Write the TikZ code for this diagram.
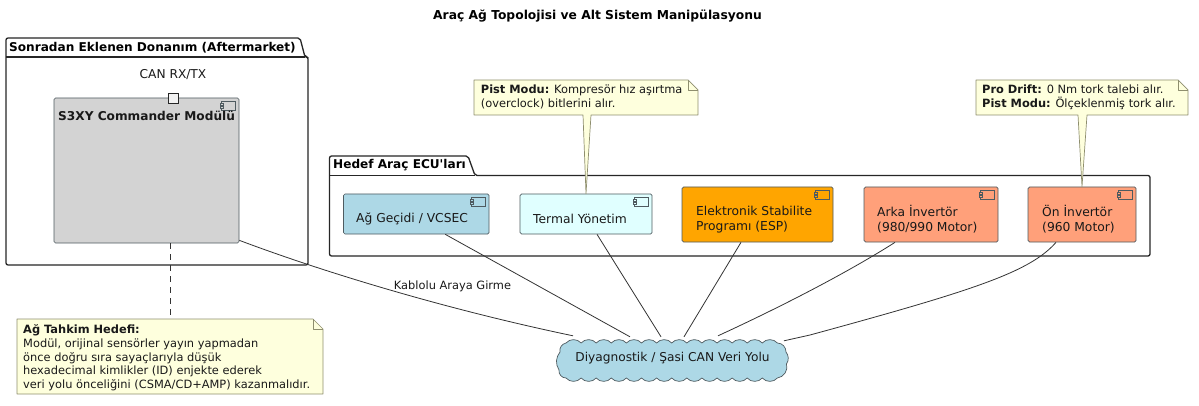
\documentclass[tikz,border=0pt]{standalone}
\usepackage{fontspec}
\setmainfont{DejaVu Sans}
\newfontfamily\aposfont{DejaVu Sans}
\definecolor{notefill}{HTML}{FEFFDD}
\definecolor{noteline}{HTML}{8E8E6E}
\definecolor{compline}{HTML}{4F5B60}
\definecolor{lsalmon}{HTML}{FFA07A}
\definecolor{lblue}{HTML}{ADD8E6}
\definecolor{lcyan}{HTML}{E0FFFF}
\definecolor{lorange}{HTML}{FFA500}
\definecolor{lgray}{HTML}{D3D3D3}
\tikzset{
	comp/.style={draw=compline,line width=0.7pt,rounded corners=1.5pt,inner sep=0pt},
	comptext/.style={font=\fontsize{12.3}{15}\selectfont,align=left,anchor=west,inner sep=0pt,text=black!90},
	notetext/.style={font=\fontsize{11.4}{13.7}\selectfont,align=left,anchor=north west,inner sep=0pt,text=black!90},
	notebox/.style={draw=noteline,fill=notefill,line width=0.7pt,line join=round},
	pkg/.style={draw=black!85,line width=1.3pt,fill=white,rounded corners=2pt},
	pkgtext/.style={font=\fontsize{12.1}{15}\selectfont\bfseries,anchor=west,inner sep=0pt},
	conn/.style={draw=black!80,line width=0.8pt},
}
\newcommand{\compicon}[2]{
	\draw[draw=compline,fill=#2,line width=0.5pt] ([xshift=-18pt,yshift=-4pt]#1.north east) rectangle ([xshift=-4pt,yshift=-13pt]#1.north east);
	\draw[draw=compline,fill=#2,line width=0.5pt] ([xshift=-19.5pt,yshift=-6pt]#1.north east) rectangle ([xshift=-16.5pt,yshift=-8pt]#1.north east);
	\draw[draw=compline,fill=#2,line width=0.5pt] ([xshift=-19.5pt,yshift=-9pt]#1.north east) rectangle ([xshift=-16.5pt,yshift=-11pt]#1.north east);
}
\begin{document}
\begin{tikzpicture}[x=1pt,y=-1pt]
	\useasboundingbox (0,0) rectangle (1199,406);
	\node[font=\fontsize{12.3}{14}\selectfont\bfseries] (title) at (597.5,16) {Araç Ağ Topolojisi ve Alt Sistem Manipülasyonu};

	% packages
	\draw[pkg] (6,57) -- (6,38) -- (300,38) -- (305,57) -- (308,57) -- (308,265) -- (6,265) -- cycle;
	\draw[draw=black!85,line width=1.3pt] (6,57) -- (305,57);
	\node[pkgtext] (hwlabel) at (9,47.5) {Sonradan Eklenen Donanım (Aftermarket)};
	\draw[pkg] (329.5,175.5) -- (329.5,156) -- (468,156) -- (475,175.5) -- (1150,175.5) -- (1150,256) -- (329.5,256) -- cycle;
	\draw[draw=black!85,line width=1.3pt] (329.5,175.5) -- (475,175.5);
	\node[pkgtext] (eculabel) at (333,165.5) {Hedef Araç ECU{\aposfont '}ları};

	% components
	\node[comp,fill=lgray,minimum width=185pt,minimum height=145pt] (cmdr) at (146.5,170.5) {};
	\node[comp,fill=lblue,minimum width=145.5pt,minimum height=40pt] (vcsec) at (416.25,214) {};
	\node[comp,fill=lcyan,minimum width=132pt,minimum height=40pt] (thermal) at (586,214) {};
	\node[comp,fill=lorange,minimum width=151pt,minimum height=55pt] (esp) at (757.5,214.5) {};
	\node[comp,fill=lsalmon,minimum width=134pt,minimum height=55pt] (rearinv) at (931,214.5) {};
	\node[comp,fill=lsalmon,minimum width=108pt,minimum height=55pt] (frontinv) at (1082,214.5) {};
	\compicon{cmdr}{lgray}
	\compicon{vcsec}{lblue}
	\compicon{thermal}{lcyan}
	\compicon{esp}{lorange}
	\compicon{rearinv}{lsalmon}
	\compicon{frontinv}{lsalmon}
	\node[comptext,font=\fontsize{12.15}{15}\selectfont\bfseries] (cmdrtext) at (58,116) {S3XY Commander Modülü};
	\node[comptext] (vcsectext) at (356,219) {Ağ Geçidi / VCSEC};
	\node[comptext] (thermaltext) at (533,219) {Termal Yönetim};
	\node[comptext] (esptext) at (696,219.5) {Elektronik Stabilite\\Programı (ESP)};
	\node[comptext] (rearinvtext) at (877,219.5) {Arka İnvertör\\(980/990 Motor)};
	\node[comptext] (frontinvtext) at (1042,219.5) {Ön İnvertör\\(960 Motor)};

	% port
	\node[draw=black!85,fill=black!5,line width=1pt,minimum size=10.5pt,inner sep=0pt] (canport) at (173.5,98.5) {};
	\node[font=\fontsize{12.2}{14}\selectfont,inner sep=0pt,text=black!90] (canlabel) at (173,75) {CAN RX/TX};

	% bus
	\draw[draw=compline,fill=lblue,line width=0.7pt] (566,343)
		\foreach \i in {1,...,14} { to[bend left=50] ++(15.1,0) }
		to[bend left=45] (786,352) to[bend left=35] (786.5,364) to[bend left=50] (777.4,378)
		\foreach \i in {1,...,14} { to[bend left=50] ++(-15.1,0) }
		to[bend left=50] (559,370) to[bend left=35] (560,352) to[bend left=45] (566,343) -- cycle;
	\node[font=\fontsize{12.2}{14}\selectfont,inner sep=0pt,text=black!90,minimum width=231pt,minimum height=44pt] (canbus) at (672.5,358) {Diyagnostik / Şasi CAN Veri Yolu};

	% connectors
	\draw[conn] ([yshift=3pt]cmdr.south east) .. controls (318,270) and (440,308) .. ([xshift=-99.5pt]canbus.north);
	\draw[conn] ([xshift=29pt]vcsec.south) -- ([xshift=-42.5pt,yshift=-1pt]canbus.north);
	\draw[conn] ([xshift=11pt]thermal.south) -- ([xshift=-11.5pt,yshift=-1pt]canbus.north);
	\draw[conn] ([xshift=-16.5pt]esp.south) -- ([xshift=11.5pt,yshift=-1pt]canbus.north);
	\draw[conn] ([xshift=-36pt]rearinv.south) .. controls (850,271) and (785,305) .. ([xshift=45.5pt]canbus.north);
	\draw[conn] ([xshift=-26pt]frontinv.south) .. controls (1030,272) and (975,290) .. (810,335) -- ([xshift=111.5pt,yshift=-5pt]canbus.north);
	\node[font=\fontsize{11.4}{14}\selectfont,inner sep=0pt,text=black!90] (wirelabel) at (452.5,286) {Kablolu Araya Girme};

	% notes
	\draw[conn,dashed,dash pattern=on 6pt off 5pt] ([xshift=23.5pt]cmdr.south) -- (170,319);
	\draw[notebox] (17,319) -- (313,319) -- (323,329) -- (323,394) -- (17,394) -- cycle;
	\draw[notebox,fill=none] (313,319) -- (313,329) -- (323,329);
	\node[notetext] (bitnote) at (23,324.5) {\textbf{Ağ Tahkim Hedefi:}\\Modül, orijinal sensörler yayın yapmadan\\önce doğru sıra sayaçlarıyla düşük\\hexadecimal kimlikler (ID) enjekte ederek\\veri yolu önceliğini (CSMA/CD+AMP) kazanmalıdır.};

	\draw[notebox] (474,80) -- (688,80) -- (698,90) -- (698,115) -- (591,115) -- (thermal.north) -- (583,115) -- (474,115) -- cycle;
	\draw[notebox,fill=none] (688,80) -- (688,90) -- (698,90);
	\node[notetext] (pistnote) at (480.7,84.5) {\textbf{Pist Modu:} Kompresör hız aşırtma\\(overclock) bitlerini alır.};

	\draw[notebox] (976,80) -- (1178,80) -- (1188,90) -- (1188,115) -- (1087,115) -- (frontinv.north) -- (1078,115) -- (976,115) -- cycle;
	\draw[notebox,fill=none] (1178,80) -- (1178,90) -- (1188,90);
	\node[notetext] (driftnote) at (982,84.5) {\textbf{Pro Drift:} 0 Nm tork talebi alır.\\\textbf{Pist Modu:} Ölçeklenmiş tork alır.};
\end{tikzpicture}
\end{document}
